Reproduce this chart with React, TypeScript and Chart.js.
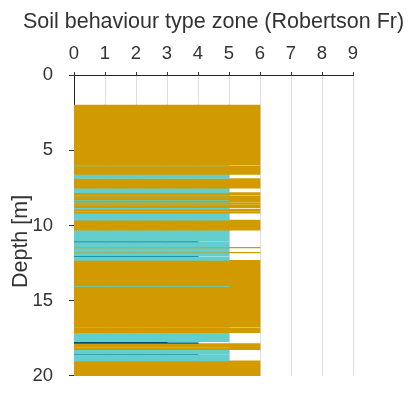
import React, { useEffect, useRef } from 'react';
import { Chart, registerables } from 'chart.js';

Chart.register(...registerables);

// Unit-wide columns of the zone axis: column c spans zone c .. c+1
const columnLabels = ['0', '1', '2', '3', '4', '5', '6', '7', '8'];

// Soil layers read from the profile (depth in m)
const depthTop = [
  2.0, 6.0, 6.05, 6.6, 6.88, 7.52, 7.82, 7.98, 8.04, 8.28, 8.33, 8.45, 8.5, 8.6, 8.64,
  8.82, 8.92, 9.03, 9.08, 9.18, 9.65, 10.32, 11.04, 11.09, 11.45, 11.5, 11.78, 11.83,
  12.03, 12.08, 12.32, 14.0, 14.05, 16.75, 16.8, 17.13, 17.72, 17.79, 17.85, 18.05,
  18.1, 18.25, 18.54, 18.58, 19.0,
];
const depthBottom = [
  6.0, 6.05, 6.6, 6.88, 7.52, 7.82, 7.98, 8.04, 8.28, 8.33, 8.45, 8.5, 8.6, 8.64, 8.82,
  8.92, 9.03, 9.08, 9.18, 9.65, 10.32, 11.04, 11.09, 11.45, 11.5, 11.78, 11.83, 12.03,
  12.08, 12.32, 14.0, 14.05, 16.75, 16.8, 17.13, 17.72, 17.79, 17.85, 18.05, 18.1,
  18.25, 18.54, 18.58, 19.0, 20.0,
];
const zoneValue = [
  6, 5, 6, 5, 6, 5, 6, 5, 6, 5, 6, 5, 6, 5, 6,
  5, 6, 5, 6, 5, 6, 5, 4, 5, 6, 5, 6, 5,
  4, 5, 6, 5, 6, 5, 6, 5, 3, 4, 6, 5,
  6, 5, 4, 5, 6,
];

const xTitle = 'Soil behaviour type zone (Robertson Fr)';
const yTitle = 'Depth [m]';

const zoneColors: Record<number, string> = {
  3: 'rgb(0, 70, 110)',
  4: 'rgb(0, 130, 160)',
  5: 'rgb(100, 205, 205)',
  6: 'rgb(209, 155, 0)',
};

const FONT = '"Liberation Sans", Arial, Helvetica, sans-serif';
const TEXT = '#333333';

// Draws the axis titles (unsqueezed zone title on top, depth title at left)
const axisTitlesPlugin = {
  id: 'axisTitles',
  afterDraw(chart: any) {
    const { ctx, chartArea } = chart;
    ctx.save();
    ctx.font = `21.5px ${FONT}`;
    ctx.fillStyle = TEXT;
    ctx.textAlign = 'center';
    ctx.textBaseline = 'middle';
    ctx.fillText(xTitle, (chartArea.left + chartArea.right) / 2, 22);
    ctx.translate(21, (chartArea.top + chartArea.bottom) / 2 + 16);
    ctx.rotate(-Math.PI / 2);
    ctx.fillText(yTitle, 0, 0);
    ctx.restore();
  },
};

export default function App() {
  const canvasRef = useRef<HTMLCanvasElement | null>(null);

  useEffect(() => {
    const canvas = canvasRef.current;
    if (!canvas) return;

    const datasets = zoneValue.map((z, i) => ({
      label: `Layer ${i + 1}`,
      data: columnLabels.map((_, c) => (c < z ? [depthTop[i], depthBottom[i]] : null)),
      backgroundColor: zoneColors[z],
      borderWidth: 0,
      grouped: false,
      barPercentage: 1,
      categoryPercentage: 1,
      xAxisID: 'xc',
      yAxisID: 'y',
    }));

    const chart = new Chart(canvas, {
      type: 'bar',
      data: { labels: columnLabels, datasets: datasets as any },
      options: {
        animation: false,
        responsive: false,
        devicePixelRatio: 1,
        layout: { padding: { left: 0, top: 0, right: 58, bottom: 12 } },
        plugins: {
          legend: { display: false },
          tooltip: { enabled: false },
        },
        scales: {
          xc: {
            type: 'category',
            display: false,
            offset: true,
          },
          x: {
            type: 'linear',
            position: 'top',
            min: 0,
            max: 9,
            offset: false,
            ticks: {
              stepSize: 1,
              color: TEXT,
              padding: 7,
              font: { family: FONT, size: 18.5 },
            },
            grid: {
              offset: false,
              color: '#dedede',
              tickLength: 3,
              tickColor: TEXT,
            },
            border: { display: true, color: '#262626', width: 1 },
            title: { display: false },
            afterFit: (s: any) => {
              s.height = 75;
            },
          } as any,
          y: {
            type: 'linear',
            reverse: true,
            min: 0,
            max: 20,
            ticks: {
              stepSize: 5,
              color: TEXT,
              padding: 16,
              font: { family: FONT, size: 18.5 },
            },
            grid: {
              drawOnChartArea: false,
              tickLength: 5,
              tickColor: TEXT,
            },
            border: { display: true, color: '#262626', width: 1 },
            title: { display: false },
            afterFit: (s: any) => {
              s.width = 74;
            },
          } as any,
        },
      },
      plugins: [axisTitlesPlugin],
    });

    return () => chart.destroy();
  }, []);

  return (
    <div style={{ position: 'fixed', left: 0, top: 0, width: 411, height: 403, background: '#fff' }}>
      <canvas ref={canvasRef} width={411} height={403} style={{ width: 411, height: 403, display: 'block' }} />
    </div>
  );
}
